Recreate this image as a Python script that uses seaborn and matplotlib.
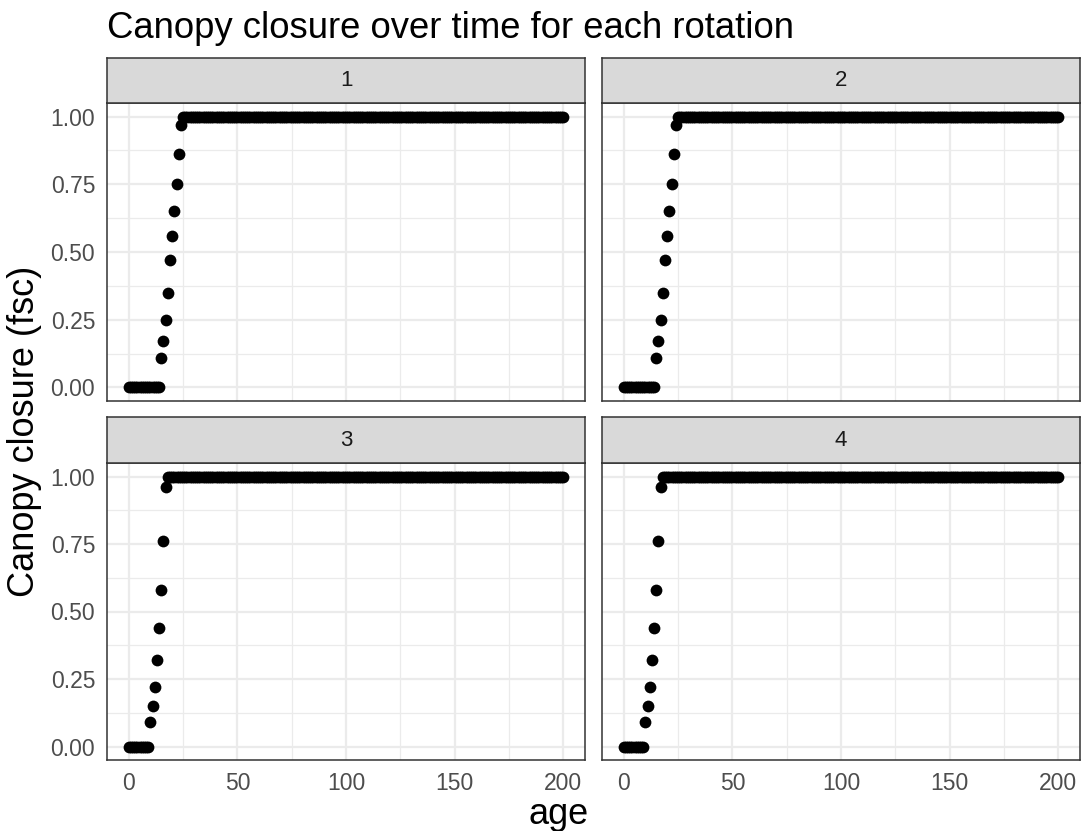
import numpy as np
import pandas as pd
import matplotlib
matplotlib.use("Agg")
import matplotlib.pyplot as plt
from matplotlib.ticker import MultipleLocator, FormatStrFormatter
import seaborn as sns

# ---- data ----
rotations = [1, 2, 3, 4]
ages = list(range(0, 201))

# rotations 1 & 2: zero up to age 14, rise from 15 to 24, closed from 25
rise_a = [0.11, 0.17, 0.25, 0.35, 0.47, 0.56, 0.65, 0.75, 0.86, 0.97]
fsc_a = [0.0] * 15 + rise_a + [1.0] * 176
# rotations 3 & 4: zero up to age 9, rise from 10 to 17, closed from 18
rise_b = [0.09, 0.15, 0.22, 0.32, 0.44, 0.58, 0.76, 0.96]
fsc_b = [0.0] * 10 + rise_b + [1.0] * 183

series = {1: fsc_a, 2: fsc_a, 3: fsc_b, 4: fsc_b}

title = "Canopy closure over time for each rotation"
x_label = "age"
y_label = "Canopy closure (fsc)"
x_ticks = [0, 50, 100, 150, 200]
y_ticks = [0.0, 0.25, 0.5, 0.75, 1.0]

df = pd.concat(
    [pd.DataFrame({"age": ages, "fsc": series[r], "rotation": r}) for r in rotations],
    ignore_index=True,
)

# ---- style ----
sns.set_theme(style="white")
plt.rcParams["font.family"] = ["Liberation Sans", "DejaVu Sans"]

W, H = 1082, 831
g = sns.relplot(
    data=df, x="age", y="fsc", col="rotation", col_wrap=2, kind="scatter",
    color="black", s=72, linewidth=0, height=4, aspect=1.3,
    facet_kws=dict(despine=False, sharex=True, sharey=True),
)
fig = g.figure
fig.set_size_inches(W / 100, H / 100)
fig.set_dpi(100)
g.set_titles("")
g.set_axis_labels("", "")

def fx(px):
    return px / W

def fy(py):
    return 1 - py / H

# panel geometry in pixels: (left, right), (strip top, axes top, axes bottom)
cols = [(107, 585), (602, 1080)]
rows = [(58, 103, 401), (417, 463, 760)]

grid_c = "#EBEBEB"
dark = "#333333"
for i, ax in enumerate(g.axes.flat):
    r, c = divmod(i, 2)
    l, rr = cols[c]
    st, top, bot = rows[r]
    ax.set_position([fx(l), fy(bot), fx(rr) - fx(l), fy(top) - fy(bot)])
    ax.set_xlim(-10, 210)
    ax.set_ylim(-0.05, 1.05)
    ax.set_xticks(x_ticks)
    ax.set_yticks(y_ticks)
    ax.xaxis.set_minor_locator(MultipleLocator(25))
    ax.yaxis.set_minor_locator(MultipleLocator(0.125))
    ax.yaxis.set_major_formatter(FormatStrFormatter("%.2f"))
    ax.set_axisbelow(True)
    ax.grid(which="major", color=grid_c, linewidth=1.6)
    ax.grid(which="minor", color=grid_c, linewidth=0.9)
    ax.tick_params(which="minor", length=0)
    ax.tick_params(which="major", length=5.5, width=1.2, color=dark,
                   labelsize=16.5, labelcolor="#4D4D4D", pad=3)
    for sp in ax.spines.values():
        sp.set_color(dark)
        sp.set_linewidth(1.1)
    if r == 0:
        ax.tick_params(axis="x", length=0, labelbottom=False)
    if c == 1:
        ax.tick_params(axis="y", length=0, labelleft=False)
    # strip
    sax = fig.add_axes([fx(l), fy(top), fx(rr) - fx(l), fy(st) - fy(top)])
    sax.set_facecolor("#D9D9D9")
    sax.set_xticks([])
    sax.set_yticks([])
    for sp in sax.spines.values():
        sp.set_color(dark)
        sp.set_linewidth(1.1)
    sax.text(0.5, 0.5, str(rotations[i]), ha="center", va="center",
             fontsize=16, color="#1A1A1A", transform=sax.transAxes)

fig.text(fx(107), fy(28), title, ha="left", va="center", fontsize=26.3, color="black")
fig.text(fx(559), fy(814), x_label, ha="center", va="center", fontsize=26, color="black")
fig.text(fx(25), fy(431), y_label, ha="center", va="center", rotation=90,
         fontsize=26, color="black")

fig.savefig("out.png", dpi=100)
